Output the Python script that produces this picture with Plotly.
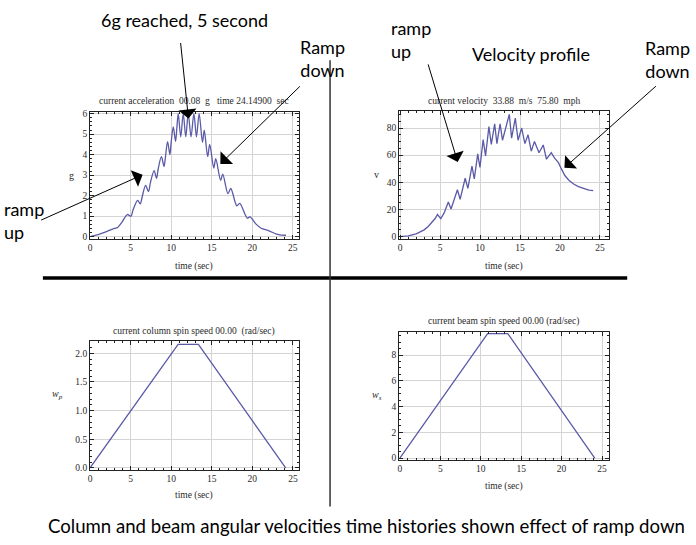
import plotly.graph_objects as go

W, H = 696, 545

# ---------------- data ----------------
acc_t = [0.1, 1.0, 2.0, 3.0, 3.4, 4.0, 4.6, 5.05, 5.3, 5.87, 6.18, 6.4, 6.85, 7.2, 7.45, 7.9, 8.2, 8.4, 8.8,
         9.12, 9.3, 9.56, 9.84, 10.0, 10.26, 10.54, 10.7, 10.87, 11.18, 11.49, 11.8, 12.1, 12.45, 12.8, 13.12,
         13.45, 13.86, 14.08, 14.5, 14.75, 15.25, 15.5, 16.1, 16.36, 17.0, 17.35, 18.1, 18.45, 19.4, 19.7,
         20.5, 21.1, 22.0, 23.0, 23.6, 24.15]
acc_g = [0.02, 0.1, 0.25, 0.4, 0.45, 0.75, 1.08, 1.0, 1.3, 1.77, 1.6, 1.9, 2.5, 2.2, 2.65, 3.22, 2.85, 3.3, 3.9,
         3.42, 3.9, 4.64, 4.0, 4.6, 5.35, 4.65, 5.3, 6.0, 4.87, 6.0, 4.87, 6.0, 4.87, 6.0, 4.87,
         6.0, 4.6, 5.2, 3.9, 4.5, 3.35, 3.8, 2.75, 3.05, 2.1, 2.35, 1.5, 1.62, 0.9, 0.97,
         0.6, 0.41, 0.3, 0.12, 0.08, 0.07]

vel_t = [0.0, 1.0, 2.0, 3.0, 3.5, 4.0, 4.4, 4.66, 5.08, 5.5, 6.02, 6.36, 6.8, 7.16, 7.5, 8.13, 8.47, 8.98, 9.27,
         9.7, 9.98, 10.38, 10.68, 11.1, 11.4, 11.82, 12.1, 12.5, 12.8, 13.65, 13.94, 14.4, 14.75, 15.2, 15.6,
         16.0, 16.4, 16.8, 17.37, 17.9, 18.3, 18.9, 19.3, 19.8, 20.2, 20.6, 21.1, 21.7, 22.3, 23.0, 23.6, 24.15]
vel_v = [0.0, 0.5, 2.0, 5.0, 7.5, 10.5, 13.5, 16.3, 13.2, 17.5, 25.5, 20.3, 27.5, 34.5, 27.5, 43.0, 35.5, 52.0, 42.5,
         61.0, 51.0, 71.5, 59.5, 81.0, 68.0, 83.0, 68.5, 83.0, 71.0, 90.0, 72.5, 87.3, 71.0, 80.0, 68.5,
         75.0, 63.0, 70.0, 61.8, 67.5, 57.0, 61.8, 58.0, 54.5, 49.5, 45.0, 41.5, 38.8, 36.8, 35.2, 34.2, 33.9]

wp_t = [0.0, 10.85, 13.35, 24.1]
wp_v = [0.0, 2.155, 2.155, 0.0]

ws_t = [0.0, 10.85, 13.35, 24.1]
ws_v = [0.0, 9.66, 9.66, 0.0]

x_ticks = [0, 5, 10, 15, 20, 25]
acc_ticks = [0, 1, 2, 3, 4, 5, 6]
vel_ticks = [0, 20, 40, 60, 80]
wp_ticks = [0.0, 0.5, 1.0, 1.5, 2.0]
ws_ticks = [0, 2, 4, 6, 8]

# ---------------- helpers ----------------
def px(x):
    return x / W

def py(y):
    return 1 - y / H

LINE = "#5a5aa8"
SERIF = "Liberation Serif"
TICKFONT = dict(family=SERIF, size=9.5, color="#2a2a2a")

fig = go.Figure()

panels = [
    ("1", acc_t, acc_g, (88.3, 297.7), (110, 239), [0, 25.74], [-0.11, 6.1], acc_ticks, 0.2, None),
    ("2", vel_t, vel_v, (398.3, 608.3), (109.3, 239), [-0.13, 26.07], [-1.7, 92.6], vel_ticks, 5, None),
    ("3", wp_t, wp_v, (88.3, 298.3), (342.7, 472.7), [0, 25.8], [-0.03, 2.21], wp_ticks, 0.1, ".1f"),
    ("4", ws_t, ws_v, (398.3, 608.3), (333.3, 462.7), [-0.09, 25.81], [-0.13, 9.79], ws_ticks, 0.5, None),
]

layout_axes = {}
for i, (name, t, v, xd, yd, xr, yr, yt, ymin, yfmt) in enumerate(panels):
    xa = "x" if i == 0 else f"x{i+1}"
    ya = "y" if i == 0 else f"y{i+1}"
    fig.add_trace(go.Scatter(
        x=t, y=v, mode="lines", xaxis=xa, yaxis=ya,
        line=dict(color=LINE, width=1.3, shape="spline" if i == 0 else "linear", smoothing=0.9),
        hoverinfo="skip", showlegend=False, cliponaxis=True,
    ))
    xkey = "xaxis" if i == 0 else f"xaxis{i+1}"
    ykey = "yaxis" if i == 0 else f"yaxis{i+1}"
    layout_axes[xkey] = dict(
        domain=[px(xd[0]), px(xd[1])], range=xr, anchor=ya,
        tickvals=x_ticks, ticks="inside", ticklen=4, tickwidth=1, tickcolor="#222",
        showline=True, linecolor="#222", linewidth=1, mirror="ticks",
        showgrid=True, gridcolor="#d4d4d4", gridwidth=1, zeroline=False,
        tickfont=TICKFONT,
        minor=dict(dtick=1, tick0=0, ticks="inside", ticklen=2, tickcolor="#222", showgrid=False),
        fixedrange=True,
    )
    layout_axes[ykey] = dict(
        domain=[py(yd[1]), py(yd[0])], range=yr, anchor=xa,
        tickvals=yt, ticks="inside", ticklen=4, tickwidth=1, tickcolor="#222",
        showline=True, linecolor="#222", linewidth=1, mirror="ticks",
        showgrid=True, gridcolor="#d4d4d4", gridwidth=1, zeroline=False,
        tickfont=TICKFONT, tickformat=yfmt if yfmt else "",
        minor=dict(dtick=ymin, tick0=0, ticks="inside", ticklen=2, tickcolor="#222", showgrid=False),
        fixedrange=True,
    )

annotations = []

def txt(x, y, s, size=9.5, family=SERIF, xanchor="center", align="center", color="#2a2a2a"):
    annotations.append(dict(
        x=px(x), y=py(y), xref="paper", yref="paper", text=s, showarrow=False,
        xanchor=xanchor, yanchor="middle", align=align,
        font=dict(family=family, size=size, color=color),
    ))

# panel titles
txt(193, 99, "current acceleration  00.08  g   time 24.14900  sec")
txt(503, 99, "current velocity  33.88  m/s  75.80  mph")
txt(193, 333, "current column spin speed 00.00  (rad/sec)")
txt(503, 323, "current beam spin speed 00.00 (rad/sec)")

# x axis titles
txt(193, 267, "time (sec)")
txt(503, 267, "time (sec)")
txt(193, 499, "time (sec)")
txt(503, 490, "time (sec)")

# y axis titles
txt(70, 175, "g", size=10)
txt(376, 174, "v", size=10)
txt(56, 397, "<i>w</i><sub><i>p</i></sub>", size=10)
txt(376, 398, "<i>w</i><sub><i>s</i></sub>", size=10)

# commentary text
SANS = "Lato"
txt(183, 17, "6g reached, 5 second", size=18, family=SANS, color="#000")
txt(321, 56, "Ramp<br>down", size=18, family=SANS, color="#000")
txt(388, 37, "ramp<br>up", size=18, family=SANS, xanchor="left", align="left", color="#000")
txt(531, 52, "Velocity profile", size=18, family=SANS, color="#000")
txt(667, 57, "Ramp<br>down", size=18, family=SANS, color="#000")
txt(0, 220, "ramp<br>up", size=18, family=SANS, xanchor="left", align="left", color="#000")
txt(366, 530, "Column and beam angular velocities time histories shown effect of ramp down",
    size=18.6, family=SANS, color="#000")

# arrows (tail -> head, in pixels)
arrows = [
    ((179, 40), (187, 117)),
    ((38, 220), (141, 174)),
    ((300, 84), (219, 163)),
    ((427, 62), (457, 161)),
    ((657, 84), (564, 167)),
]
for (tx, ty), (hx, hy) in arrows:
    annotations.append(dict(
        x=px(hx), y=py(hy), xref="paper", yref="paper", text="",
        showarrow=True, ax=tx - hx, ay=ty - hy, axref="pixel", ayref="pixel",
        arrowhead=1, arrowsize=3, arrowwidth=1, arrowcolor="#000", standoff=0,
    ))

shapes = [
    dict(type="line", xref="paper", yref="paper", x0=px(41), x1=px(627), y0=py(278.5), y1=py(278.5),
         line=dict(color="#000", width=3.5)),
    dict(type="line", xref="paper", yref="paper", x0=px(329), x1=px(329), y0=py(58), y1=py(510),
         line=dict(color="#333", width=1.5)),
]

fig.update_layout(
    width=W, height=H, margin=dict(l=0, r=0, t=0, b=0),
    paper_bgcolor="white", plot_bgcolor="white",
    annotations=annotations, shapes=shapes, showlegend=False,
    **layout_axes,
)

fig.write_html(
    "out.html",
    config={"displayModeBar": False, "staticPlot": True},
    post_script="document.body.style.margin='0';document.body.style.overflow='hidden';",
)
